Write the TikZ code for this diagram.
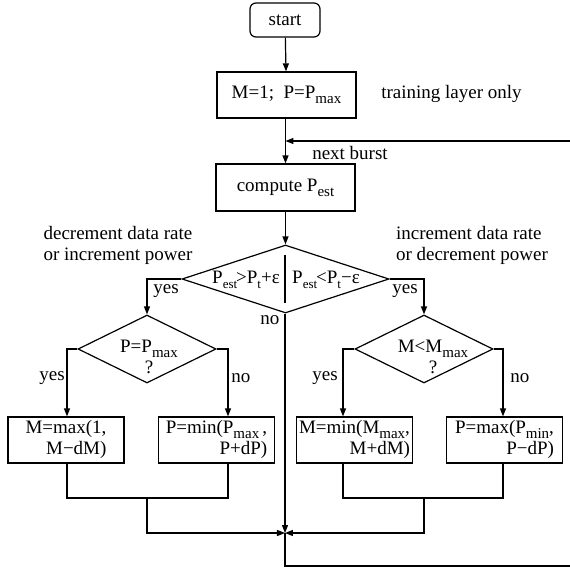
\documentclass[tikz,border=0pt]{standalone}
\usepackage{fontspec}
\setmainfont{Liberation Serif}
\usepackage{tikz}
\usetikzlibrary{shapes.geometric,arrows.meta}
\tikzstyle{block}=[rectangle, draw, inner sep=0pt, minimum width=58pt, minimum height=23pt]
\tikzstyle{decision}=[diamond, draw, inner sep=0pt, minimum width=69pt, minimum height=34pt]
\tikzstyle{arr}=[-{Triangle[length=4pt,width=3pt]}]
\newcommand{\block}{\node[block]}
\newcommand{\subtxt}[1]{\raisebox{-0.55ex}{\fontsize{7.5}{8}\selectfont #1}}
\newcommand{\subsmall}[1]{\raisebox{-0.6ex}{\fontsize{6.5}{7}\selectfont #1}}
\newcommand{\twoline}[2]{\begin{tabular}{@{}l@{}}#1\\\hfill #2\end{tabular}}

\begin{document}
\begin{tikzpicture}[x=0.5pt, y=-0.5pt, line width=0.6pt,
    font=\fontsize{9.5}{10.5}\selectfont]
\useasboundingbox (0,0) rectangle (570,569);
\node[block, rounded corners=3pt, minimum width=35pt, minimum height=17pt] (start) at (285,20) {start};
\block[minimum width=69.5pt] (init) at (286.5,95) {M=1;\ \ P=P\subtxt{max}};
\block[minimum width=69.5pt, minimum height=23.5pt] (comp) at (285.5,187.5) {compute P\subtxt{est}};
\node[decision, minimum width=103.5pt] (test) at (285.5,279) {};
\node[inner sep=0pt] (testa) at (246,280) {P\subsmall{est}\kern-0.5pt>P\subsmall{t}+ε};
\node[inner sep=0pt] (testb) at (326,280) {P\subsmall{est}\kern-0.5pt<P\subsmall{t}−ε};
\node[decision] (pmax) at (147,349) {};
\node[align=center] (pmaxt) at (149,357) {P=P\subtxt{max}\\?};
\node[decision] (mmax) at (424,349) {};
\node[align=center] (mmaxt) at (433,357) {M<M\subtxt{max}\\?};
\block (b1) at (66,440) {\twoline{M=max(1,}{M−dM)}};
\block (b2) at (216.5,440) {\twoline{P=min(P\subtxt{max}\,,}{P+dP)}};
\block (b3) at (354.5,440) {\twoline{M=min(M\subtxt{max},}{M+dM)}};
\block (b4) at (504.5,440) {\twoline{P=max(P\subtxt{min},}{P−dP)}};
\coordinate (loopin) at (570,141);
\coordinate (merge) at (285,533);
\coordinate (loopout) at (570,566);
\coordinate (j1) at (147,498);
\coordinate (j2) at (424,498);
% texts
\node[anchor=west] (train) at (374,94) {training layer only};
\node[anchor=west] (burst) at (305,153) {next burst};
\node[align=left] (dec) at (118,245) {decrement data rate\\or increment power};
\node[align=left] (inc) at (472,245) {increment data rate\\or decrement power};
\node (ya) at (166,291) {yes};
\node (yb) at (405,291) {yes};
\node (nc) at (270,320) {no};
\node (yc) at (52,378) {yes};
\node (nd) at (241,378) {no};
\node (ye) at (325,378) {yes};
\node (nf) at (520,378) {no};
% connectors
\draw[arr] (start) -- (init);
\draw[arr] (init.south -| comp.north) -- (comp);
\draw[arr] (loopin) -- (loopin -| comp.north);
\draw[arr] (comp) -- (test);
\draw ([yshift=-5.5pt]test.north -| merge) -- ([yshift=5.5pt]test.south -| merge);
\draw[arr] (test.west) -| (pmax.north);
\draw[arr] (test.east) -| (mmax.north);
\draw[arr] (pmax.west) -| ([xshift=0.5pt]b1.north);
\draw[arr] (pmax.east) -| ([xshift=5.75pt]b2.north);
\draw[arr] (mmax.west) -| ([xshift=-5.75pt]b3.north);
\draw[arr] (mmax.east) -| ([xshift=-0.75pt]b4.north);
\draw ([xshift=0.5pt]b1.south) |- (j1) -| ([xshift=5.75pt]b2.south);
\draw ([xshift=-5.75pt]b3.south) |- (j2) -| ([xshift=-0.75pt]b4.south);
\draw[arr] (j1) |- (merge);
\draw[arr] (j2) |- (merge);
\draw[arr] (test.south -| merge) -- (merge);
\draw (merge) |- (loopout);
\end{tikzpicture}
\end{document}
